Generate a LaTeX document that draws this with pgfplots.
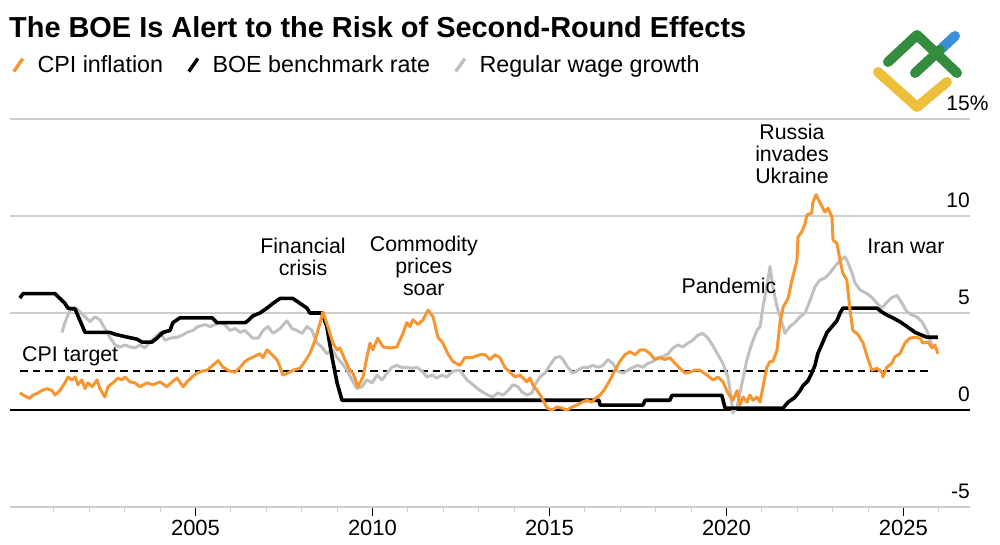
\documentclass[border=0pt]{standalone}
\usepackage{pgfplots}
\pgfplotsset{compat=1.18}
\usepackage{fontspec}
\setmainfont{Liberation Sans}
\definecolor{cpiorange}{RGB}{246,150,48}
\definecolor{wagegrey}{RGB}{192,192,192}
\definecolor{gridgrey}{RGB}{206,206,206}
\definecolor{logogreen}{RGB}{52,140,62}
\definecolor{logoblue}{RGB}{58,143,216}
\definecolor{logoyellow}{RGB}{236,192,58}
\begin{document}
\begin{tikzpicture}
\path (0pt,0pt) rectangle (1000pt,545pt);
\node[anchor=base west, inner sep=0pt, font=\fontsize{28.9}{32}\selectfont\bfseries] at (9pt,507pt) {The BOE Is Alert to the Risk of Second-Round Effects};
\begin{axis}[
  at={(10pt,38pt)}, anchor=south west,
  scale only axis, width=960pt, height=388pt,
  xmin=1999.76, xmax=2026.88, ymin=-5, ymax=15,
  axis x line*=bottom, axis y line*=right,
  y axis line style={draw=none},
  x axis line style={gridgrey, line width=1.3pt},
  xtick={2005,2010,2015,2020,2025},
  minor xtick={2001,2002,2003,2004,2006,2007,2008,2009,2011,2012,2013,2014,2016,2017,2018,2019,2021,2022,2023,2024,2026},
  xticklabels={2005,2010,2015,2020,2025},
  tick align=outside,
  major tick length=9pt, minor tick length=5pt,
  xtick style={black, line width=1.1pt},
  minor x tick style={gridgrey, line width=1.1pt},
  ytick={-5,0,5,10,15},
  yticklabels={-5,0,5,10,15\rlap{\%}},
  ytick style={draw=none},
  yticklabel pos=right,
  ymajorgrids,
  major grid style={gridgrey, line width=1.3pt},
  yticklabel style={anchor=south east, inner sep=0pt, font=\fontsize{21}{24}\selectfont, xshift=-9pt, yshift=8pt},
  xticklabel style={font=\fontsize{22}{26}\selectfont, yshift=-1pt},
  /pgf/number format/assume math mode=true,
  extra y ticks={0}, extra y tick labels={},
  extra y tick style={ymajorgrids, major grid style={black, line width=1.5pt}},
  legend columns=3,
  legend style={draw=none, fill=none, at={(0.002,1.139)}, anchor=west, inner sep=0pt,
    font=\fontsize{23.3}{26}\selectfont,
    nodes={inner sep=0pt},
    /tikz/every odd column/.append style={column sep=13pt},
    /tikz/every even column/.append style={column sep=24pt}},
  legend image code/.code={\draw[#1, line width=3.4pt] (0pt,-6.5pt) -- (9pt,6.5pt);},
  clip=false,
]
\addlegendimage{cpiorange}
\addlegendentry{CPI inflation}
\addlegendimage{black}
\addlegendentry{BOE benchmark rate}
\addlegendimage{wagegrey}
\addlegendentry{Regular wage growth}

% CPI target
\addplot[forget plot, black, line width=2pt, dash pattern=on 7.5pt off 5pt] coordinates {(2000.05,2) (2025.75,2)};

% Regular wage growth
\addplot[forget plot, wagegrey, line width=3pt, line join=round] coordinates {
(2001.23,4.0)(2001.31,4.5)(2001.45,5.15)(2001.60,5.3)(2001.74,5.05)(2001.88,4.8)(2002.02,4.55)(2002.16,4.8)(2002.30,4.65)(2002.44,4.2)(2002.58,3.75)(2002.73,3.35)(2002.87,3.25)(2003.01,3.35)(2003.15,3.25)(2003.29,3.2)(2003.43,3.35)(2003.57,3.2)(2003.71,3.5)(2003.86,3.75)(2004.00,4.0)(2004.14,3.6)(2004.28,3.7)(2004.48,3.75)(2004.62,3.85)(2004.76,4.0)(2004.93,4.1)(2005.07,4.3)(2005.27,4.4)(2005.41,4.3)(2005.55,4.4)(2005.69,4.5)(2005.83,4.4)(2005.97,4.1)(2006.12,4.2)(2006.26,4.0)(2006.40,4.1)(2006.48,3.95)(2006.62,3.7)(2006.77,3.7)(2006.91,4.1)(2007.05,4.3)(2007.19,3.95)(2007.39,4.2)(2007.58,4.6)(2007.73,4.2)(2007.87,4.1)(2008.01,3.95)(2008.15,4.3)(2008.29,4.1)(2008.43,3.45)(2008.57,3.25)(2008.71,2.9)(2008.86,3.1)(2009.00,2.7)(2009.14,2.4)(2009.28,2.05)(2009.42,1.55)(2009.56,1.1)(2009.70,1.2)(2009.84,1.55)(2009.99,1.4)(2010.13,1.8)(2010.27,1.55)(2010.41,1.9)(2010.55,2.2)(2010.69,2.3)(2010.83,2.2)(2010.97,2.2)(2011.12,2.15)(2011.26,2.2)(2011.40,2.0)(2011.54,1.7)(2011.68,1.8)(2011.82,1.65)(2011.96,1.8)(2012.10,1.7)(2012.27,2.0)(2012.47,2.05)(2012.67,1.55)(2012.84,1.3)(2013.04,1.0)(2013.26,0.77)(2013.40,0.67)(2013.54,0.88)(2013.69,0.77)(2013.83,1.0)(2013.97,1.3)(2014.11,1.2)(2014.22,0.93)(2014.36,0.77)(2014.51,0.88)(2014.59,1.3)(2014.73,1.7)(2014.87,1.9)(2015.01,2.3)(2015.16,2.7)(2015.30,2.75)(2015.38,2.6)(2015.52,2.2)(2015.66,1.9)(2015.80,2.05)(2015.95,2.2)(2016.09,2.2)(2016.23,2.3)(2016.37,2.2)(2016.51,2.3)(2016.65,2.6)(2016.79,2.4)(2016.93,2.0)(2017.08,1.9)(2017.22,2.05)(2017.36,2.2)(2017.50,2.3)(2017.64,2.2)(2017.78,2.4)(2017.92,2.5)(2018.06,2.7)(2018.21,2.75)(2018.35,2.9)(2018.49,3.2)(2018.63,3.35)(2018.77,3.25)(2018.91,3.45)(2019.05,3.6)(2019.19,3.85)(2019.33,3.95)(2019.48,3.7)(2019.62,3.3)(2019.76,2.85)(2019.90,2.4)(2020.04,1.7)(2020.12,0.8)(2020.18,-0.15)(2020.30,0.15)(2020.38,0.88)(2020.47,1.65)(2020.58,2.6)(2020.72,3.45)(2020.86,4.1)(2020.95,4.3)(2021.03,5.3)(2021.14,6.35)(2021.23,7.4)(2021.31,6.35)(2021.43,5.3)(2021.57,4.5)(2021.65,3.95)(2021.79,4.3)(2021.93,4.5)(2022.08,4.8)(2022.22,5.0)(2022.36,5.65)(2022.50,6.35)(2022.64,6.7)(2022.78,6.8)(2022.92,7.05)(2023.06,7.4)(2023.21,7.7)(2023.35,7.9)(2023.43,7.6)(2023.55,7.05)(2023.63,6.55)(2023.77,6.2)(2023.97,6.0)(2024.11,5.8)(2024.25,5.5)(2024.39,5.25)(2024.53,5.55)(2024.67,5.8)(2024.82,5.9)(2024.96,5.5)(2025.10,5.05)(2025.24,4.9)(2025.38,4.8)(2025.52,4.55)(2025.66,4.1)(2025.75,3.6)(2025.83,3.25)
};

% BOE benchmark rate
\addplot[forget plot, black, line width=3.6pt, line join=round] coordinates {
(2000.04,5.77)(2000.13,6.0)(2001.03,6.0)(2001.17,5.75)(2001.31,5.5)(2001.40,5.25)(2001.60,5.2)(2001.74,4.6)(2001.88,4.0)(2002.58,4.0)(2002.73,3.9)(2003.09,3.75)(2003.35,3.65)(2003.49,3.5)(2003.77,3.5)(2003.91,3.7)(2004.08,4.0)(2004.28,4.1)(2004.36,4.5)(2004.56,4.75)(2005.47,4.75)(2005.61,4.5)(2006.40,4.5)(2006.48,4.6)(2006.62,4.85)(2006.82,5.0)(2007.02,5.25)(2007.19,5.5)(2007.39,5.75)(2007.75,5.75)(2007.95,5.5)(2008.15,5.25)(2008.23,5.0)(2008.57,5.0)(2008.71,4.3)(2008.86,2.7)(2009.00,1.4)(2009.14,0.5)(2016.40,0.5)(2016.43,0.25)(2017.64,0.25)(2017.70,0.5)(2018.40,0.5)(2018.46,0.75)(2019.87,0.75)(2019.96,0.1)(2021.60,0.1)(2021.74,0.4)(2021.93,0.65)(2022.08,1.0)(2022.16,1.25)(2022.30,1.5)(2022.41,1.9)(2022.50,2.3)(2022.58,2.9)(2022.70,3.4)(2022.84,4.0)(2022.98,4.3)(2023.12,4.6)(2023.21,5.0)(2023.29,5.25)(2024.25,5.25)(2024.39,5.05)(2024.53,4.9)(2024.70,4.75)(2024.90,4.55)(2025.10,4.3)(2025.33,4.0)(2025.66,3.75)(2025.97,3.75)
};

% CPI inflation
\addplot[forget plot, cpiorange, line width=3pt, line join=round] coordinates {
(2000.04,0.88)(2000.18,0.72)(2000.32,0.6)(2000.41,0.77)(2000.55,0.88)(2000.66,1.0)(2000.80,1.1)(2000.95,1.0)(2001.03,0.77)(2001.17,1.0)(2001.31,1.4)(2001.40,1.7)(2001.51,1.55)(2001.60,1.7)(2001.68,1.3)(2001.79,1.55)(2001.88,1.1)(2001.96,1.4)(2002.08,1.2)(2002.22,1.55)(2002.30,1.1)(2002.44,0.67)(2002.53,1.2)(2002.67,1.4)(2002.81,1.65)(2002.92,1.55)(2003.01,1.7)(2003.15,1.45)(2003.29,1.4)(2003.43,1.2)(2003.63,1.4)(2003.80,1.3)(2004.00,1.45)(2004.19,1.2)(2004.34,1.45)(2004.48,1.65)(2004.65,1.2)(2004.76,1.45)(2004.90,1.7)(2005.04,1.9)(2005.18,2.0)(2005.32,2.05)(2005.49,2.3)(2005.64,2.55)(2005.78,2.2)(2005.97,2.0)(2006.12,1.95)(2006.26,2.2)(2006.40,2.5)(2006.48,2.6)(2006.82,2.9)(2006.91,2.7)(2007.02,3.1)(2007.16,2.85)(2007.30,2.6)(2007.39,2.2)(2007.47,1.8)(2007.61,1.9)(2007.75,2.05)(2007.95,2.15)(2008.09,2.5)(2008.23,2.9)(2008.38,3.6)(2008.52,4.5)(2008.60,5.05)(2008.74,4.3)(2008.88,3.45)(2009.00,3.1)(2009.08,3.2)(2009.22,2.6)(2009.36,2.05)(2009.45,1.9)(2009.59,1.2)(2009.73,1.7)(2009.84,2.7)(2009.93,3.45)(2010.01,3.1)(2010.15,3.7)(2010.30,3.25)(2010.49,3.2)(2010.69,3.25)(2010.86,3.95)(2010.97,4.5)(2011.06,4.3)(2011.14,4.65)(2011.29,4.4)(2011.43,4.65)(2011.57,5.15)(2011.71,4.8)(2011.85,3.75)(2011.99,3.45)(2012.13,2.9)(2012.27,2.5)(2012.47,2.3)(2012.61,2.7)(2012.81,2.7)(2013.04,2.85)(2013.18,2.85)(2013.32,2.6)(2013.46,2.85)(2013.60,2.7)(2013.74,2.2)(2013.88,1.95)(2014.03,1.7)(2014.17,1.8)(2014.25,1.65)(2014.36,1.45)(2014.45,1.65)(2014.53,1.3)(2014.68,0.93)(2014.79,0.62)(2014.93,0.1)(2015.07,0)(2015.21,0.15)(2015.35,0.1)(2015.49,0)(2015.64,0.15)(2015.78,0.26)(2015.92,0.4)(2016.06,0.5)(2016.20,0.4)(2016.29,0.6)(2016.43,0.77)(2016.57,1.1)(2016.71,1.55)(2016.85,2.05)(2016.99,2.5)(2017.13,2.85)(2017.27,3.0)(2017.42,2.85)(2017.56,3.1)(2017.70,3.1)(2017.84,2.9)(2017.98,2.6)(2018.12,2.7)(2018.26,2.6)(2018.40,2.7)(2018.55,2.4)(2018.69,2.15)(2018.83,1.9)(2018.97,1.95)(2019.11,2.05)(2019.25,2.05)(2019.45,1.8)(2019.62,1.55)(2019.76,1.7)(2019.90,1.45)(2020.04,0.88)(2020.18,0.5)(2020.30,1.0)(2020.38,0.26)(2020.47,0.67)(2020.58,0.4)(2020.66,0.77)(2020.75,0.5)(2020.86,0.67)(2020.95,0.4)(2021.03,1.2)(2021.14,2.2)(2021.23,2.5)(2021.31,2.5)(2021.43,3.1)(2021.51,4.5)(2021.60,5.3)(2021.74,5.75)(2021.85,6.7)(2021.99,7.7)(2022.02,8.9)(2022.13,9.2)(2022.22,9.6)(2022.27,10.05)(2022.41,10.15)(2022.44,10.7)(2022.53,11.1)(2022.64,10.7)(2022.78,10.2)(2022.87,10.4)(2022.98,9.95)(2023.01,8.75)(2023.12,8.6)(2023.21,7.7)(2023.29,7.05)(2023.40,6.7)(2023.49,5.15)(2023.57,4.1)(2023.71,3.9)(2023.86,3.45)(2024.00,2.6)(2024.11,2.05)(2024.25,2.15)(2024.39,1.95)(2024.42,1.7)(2024.53,2.2)(2024.67,2.4)(2024.76,2.75)(2024.90,2.9)(2025.04,3.45)(2025.18,3.7)(2025.33,3.75)(2025.47,3.7)(2025.55,3.45)(2025.69,3.5)(2025.81,3.2)(2025.89,3.35)(2025.97,2.9)
};

\begin{scope}[font=\fontsize{21.3}{22}\selectfont, every node/.style={align=center, inner sep=0pt}]
\node at (axis cs:2008.04,7.9) {Financial\\crisis};
\node at (axis cs:2011.45,7.45) {Commodity\\prices\\soar};
\node at (axis cs:2020.07,6.4) {Pandemic};
\node at (axis cs:2021.85,13.2) {Russia\\invades\\Ukraine};
\node at (axis cs:2025.07,8.42) {Iran war};
\node[anchor=west] at (axis cs:2000.1,2.75) {CPI target};
\end{scope}
\end{axis}
% logo
\begin{scope}[line width=10pt, line cap=round, line join=round]
\draw[logoyellow] (878pt,473pt) -- (917pt,438pt) -- (947pt,463pt);
\draw[logoblue] (940pt,495pt) -- (955pt,509pt);
\draw[logogreen] (888pt,483pt) -- (917pt,510pt) -- (957pt,472pt);
\draw[logogreen] (915pt,472pt) -- (940pt,495pt);
\end{scope}
\end{tikzpicture}
\end{document}
